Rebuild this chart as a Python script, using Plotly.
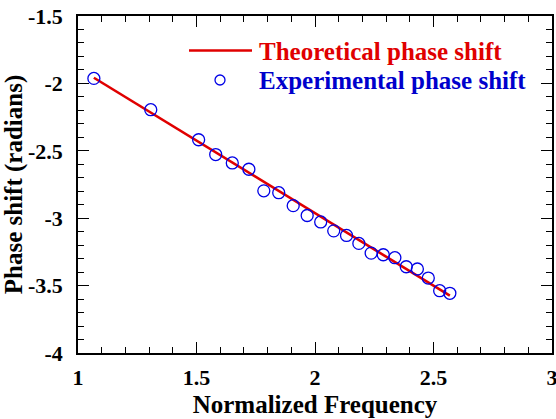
import plotly.graph_objects as go

freq_exp = [1.067, 1.307, 1.509, 1.581, 1.651, 1.721, 1.784, 1.847, 1.908, 1.967,
            2.024, 2.079, 2.133, 2.185, 2.237, 2.288, 2.337, 2.385, 2.432, 2.478,
            2.526, 2.569]
phase_exp = [-1.963, -2.195, -2.418, -2.528, -2.590, -2.637, -2.797, -2.811, -2.907, -2.980,
             -3.028, -3.094, -3.128, -3.187, -3.259, -3.271, -3.293, -3.360, -3.377, -3.444,
             -3.538, -3.557]

# Theoretical line endpoints
freq_th = [1.067, 2.569]
phase_th = [-1.958, -3.575]

x_ticks = [1, 1.5, 2, 2.5, 3]
y_ticks = [-1.5, -2, -2.5, -3, -3.5, -4]

RED = "#e00000"
BLUE = "#0000e6"
TEXT_BLUE = "#0000cc"
FONT = "Liberation Serif"

fig = go.Figure()
fig.add_trace(go.Scatter(x=freq_th, y=phase_th, mode="lines",
                         line=dict(color=RED, width=2.6), showlegend=False))
fig.add_trace(go.Scatter(x=freq_exp, y=phase_exp, mode="markers",
                         marker=dict(symbol="circle-open", size=12, color=BLUE,
                                     line=dict(width=1.3, color=BLUE)),
                         showlegend=False))

axis_common = dict(
    showline=True, linecolor="black", linewidth=1.5, mirror="allticks",
    ticks="inside", ticklen=11, tickwidth=1.3, tickcolor="black",
    showgrid=False, zeroline=False, automargin=False,
    ticklabeloverflow="allow",
    tickfont=dict(family=FONT, size=22, color="black", weight="bold"),
)

fig.update_xaxes(range=[1, 3], tickvals=x_ticks, ticktext=[str(v) for v in x_ticks],
                 minor=dict(dtick=0.1, ticks="inside", ticklen=6, tickwidth=1.2,
                            tickcolor="black", showgrid=False),
                 title=dict(text="Normalized Frequency",
                            font=dict(family=FONT, size=25, color="black", weight="bold"),
                            standoff=6),
                 ticklabelstandoff=4,
                 **axis_common)
fig.update_yaxes(range=[-4, -1.5], tickvals=y_ticks, ticktext=[str(v) for v in y_ticks],
                 minor=dict(dtick=0.1, ticks="inside", ticklen=6, tickwidth=1.2,
                            tickcolor="black", showgrid=False),
                 title=dict(text="Phase shift (radians)",
                            font=dict(family=FONT, size=25, color="black", weight="bold"),
                            standoff=4),
                 ticklabelstandoff=9,
                 **axis_common)

# Legend drawn manually (paper coordinates)
L, R, T, B = 78, 552, 16, 353
W, H = R - L, B - T
def px(x):
    return (x - L) / W
def py(y):
    return 1 - (y - T) / H

fig.add_shape(type="line", xref="paper", yref="paper",
              x0=px(189), x1=px(252), y0=py(50.5), y1=py(50.5),
              line=dict(color=RED, width=2.6))
fig.add_shape(type="circle", xref="paper", yref="paper",
              xsizemode="pixel", ysizemode="pixel",
              xanchor=px(220), yanchor=py(80), x0=-5, x1=5, y0=-5, y1=5,
              line=dict(color=BLUE, width=1.3))
fig.add_annotation(xref="paper", yref="paper", x=px(257), y=py(51),
                   xanchor="left", yanchor="middle", showarrow=False,
                   text="Theoretical phase shift",
                   font=dict(family=FONT, size=25, color=RED, weight="bold"))
fig.add_annotation(xref="paper", yref="paper", x=px(257), y=py(80),
                   xanchor="left", yanchor="middle", showarrow=False,
                   text="Experimental phase shift",
                   font=dict(family=FONT, size=25, color=TEXT_BLUE, weight="bold"))

fig.update_layout(
    width=556, height=419,
    margin=dict(l=L, r=556 - R, t=T, b=419 - B, autoexpand=False),
    paper_bgcolor="white", plot_bgcolor="white",
    showlegend=False,
)

fig.write_html("out.html", config={"displayModeBar": False},
               post_script="document.body.style.margin='0';document.body.style.overflow='hidden';")
